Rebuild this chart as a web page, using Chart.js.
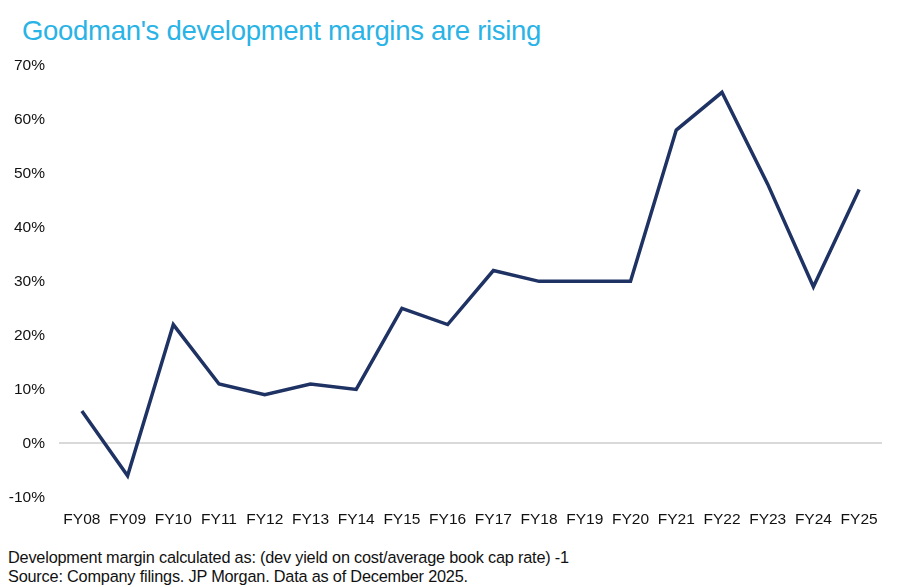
<!DOCTYPE html>
<html>
<head>
<meta charset="utf-8">
<script src="https://cdn.jsdelivr.net/npm/chart.js@4/dist/chart.umd.min.js"></script>
<style>
  body { margin: 0; background: #fff; }
  #wrap { position: relative; width: 900px; height: 587px; font-family: "Liberation Sans", Arial, sans-serif; }
  #title { position: absolute; left: 22px; top: 15px; font-size: 27.5px; color: #29b3e6; letter-spacing: -0.3px; }
  #box { position: absolute; left: 0; top: 42px; width: 900px; height: 492px; }
  .note { position: absolute; left: 8px; font-size: 16.3px; color: #111; letter-spacing: -0.2px; }
</style>
</head>
<body>
<div id="wrap">
  <div id="title">Goodman's development margins are rising</div>
  <div id="box"><canvas id="chartMargen"></canvas></div>
  <div class="note" style="top:548px">Development margin calculated as: (dev yield on cost/average book cap rate) -1</div>
  <div class="note" style="top:567px">Source: Company filings. JP Morgan. Data as of December 2025.</div>
</div>
<script>
// años fiscales
const anios = ['FY08', 'FY09', 'FY10', 'FY11', 'FY12', 'FY13', 'FY14', 'FY15', 'FY16',
  'FY17', 'FY18', 'FY19', 'FY20', 'FY21', 'FY22', 'FY23', 'FY24', 'FY25'];
// margen de desarrollo en %
const margen = [6, -6, 22, 11, 9, 11, 10, 25, 22, 32, 30, 30, 30, 58, 65, 48, 29, 47];

const ctxMargen = document.getElementById('chartMargen').getContext('2d');

new Chart(ctxMargen, {
  type: 'line',
  data: {
    labels: anios,
    datasets: [{
      label: 'Development margin',
      data: margen,
      borderColor: '#1f3264',
      borderWidth: 3.5,
      pointRadius: 0,
      tension: 0,
      fill: false
    }]
  },
  options: {
    responsive: true,
    maintainAspectRatio: false,
    animation: false,
    layout: {
      padding: { top: 8, right: 18, left: 0, bottom: 0 }
    },
    plugins: {
      legend: { display: false },
      tooltip: { enabled: false }
    },
    scales: {
      x: {
        offset: true,
        grid: { display: false },
        border: { display: false },
        ticks: {
          color: '#111',
          padding: 5,
          maxRotation: 0,
          autoSkip: false,
          font: { family: 'Liberation Sans', size: 15.5 }
        }
      },
      y: {
        min: -10,
        max: 70,
        border: { display: false },
        afterFit: scale => { scale.width = 59; },
        grid: {
          drawTicks: false,
          lineWidth: 2,
          color: ctx => ctx.tick && ctx.tick.value === 0 ? '#d9d9d9' : 'rgba(0,0,0,0)'
        },
        ticks: {
          stepSize: 10,
          color: '#111',
          padding: 14,
          font: { family: 'Liberation Sans', size: 15.5 },
          callback: v => v + '%'
        }
      }
    }
  }
});
</script>
</body>
</html>
